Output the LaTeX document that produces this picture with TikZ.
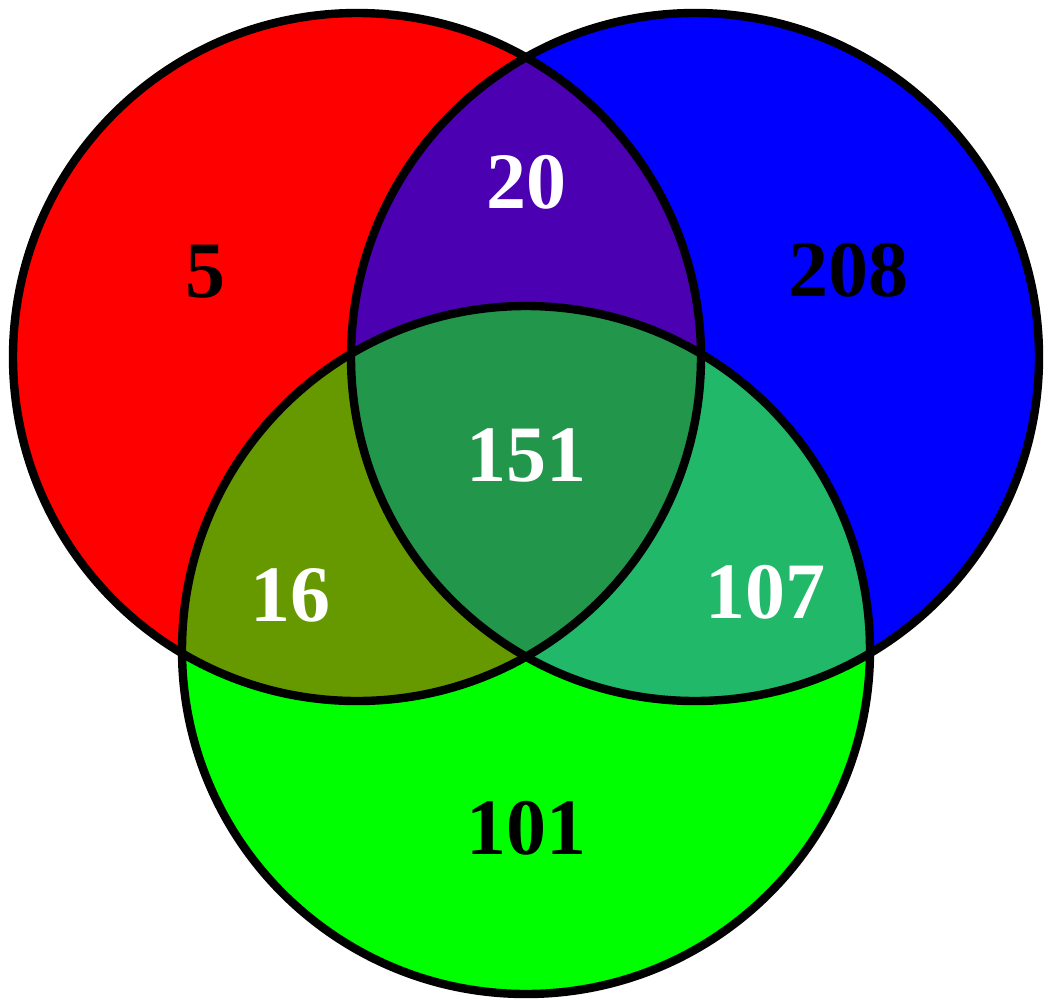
\documentclass[tikz,border=0pt]{standalone}
\usepackage{fontspec}
\setmainfont{Liberation Serif}
\definecolor{setA}{HTML}{FF0000}
\definecolor{setB}{HTML}{0000FF}
\definecolor{setC}{HTML}{00FF00}
\definecolor{setAB}{HTML}{4B00B2}
\definecolor{setAC}{HTML}{669900}
\definecolor{setBC}{HTML}{22B86A}
\definecolor{setABC}{HTML}{22964A}

\begin{document}
\begin{tikzpicture}[
    x=0.5pt, y=-0.5pt,
    count/.style={font=\fontsize{40}{48}\selectfont\bfseries},
    outline/.style={draw=black, line width=4.2pt}
]
    \useasboundingbox (0,0) rectangle (1044,998);

    % Set centres
    \coordinate (A) at (357,357);
    \coordinate (B) at (695,357);
    \coordinate (C) at (526,650);
    \def\rad{172pt}

    % Single sets
    \fill[setA] (A) circle[radius=\rad];
    \fill[setB] (B) circle[radius=\rad];
    \fill[setC] (C) circle[radius=\rad];

    % Pairwise overlaps
    \begin{scope}
        \clip (A) circle[radius=\rad];
        \fill[setAB] (B) circle[radius=\rad];
        \fill[setAC] (C) circle[radius=\rad];
    \end{scope}
    \begin{scope}
        \clip (B) circle[radius=\rad];
        \fill[setBC] (C) circle[radius=\rad];
    \end{scope}

    % Triple overlap
    \begin{scope}
        \clip (A) circle[radius=\rad];
        \clip (B) circle[radius=\rad];
        \fill[setABC] (C) circle[radius=\rad];
    \end{scope}

    % Outlines
    \draw[outline] (A) circle[radius=\rad];
    \draw[outline] (B) circle[radius=\rad];
    \draw[outline] (C) circle[radius=\rad];

    % Counts
    \node[count] (onlyA) at (205,272) {5};
    \node[count] (onlyB) at (848,270) {208};
    \node[count] (onlyC) at (526,828) {101};
    \node[count, white] (AB) at (526,182) {20};
    \node[count, white] (AC) at (290,595) {16};
    \node[count, white] (BC) at (765,592) {107};
    \node[count, white] (ABC) at (526,455) {151};
\end{tikzpicture}
\end{document}
